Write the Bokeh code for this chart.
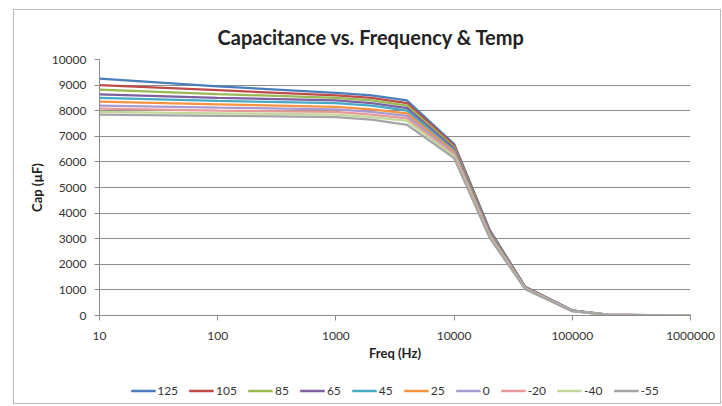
from bokeh.plotting import figure
from bokeh.layouts import column
from bokeh.models import Legend, LegendItem, FixedTicker, CustomJSTickFormatter, Title
from bokeh.embed import file_html
from bokeh.resources import INLINE

freq = [10, 100, 1000, 2000, 4000, 10000, 20000, 40000, 100000, 200000, 1000000]
temps = ["125", "105", "85", "65", "45", "25", "0", "-20", "-40", "-55"]
cap_125 = [9250, 8950, 8700, 8600, 8400, 6700, 3350, 1120, 200, 30, 0]
cap_105 = [9000, 8800, 8600, 8500, 8300, 6650, 3300, 1110, 195, 30, 0]
cap_85 = [8820, 8650, 8500, 8400, 8200, 6580, 3270, 1100, 190, 28, 0]
cap_65 = [8640, 8500, 8400, 8300, 8100, 6520, 3240, 1090, 190, 28, 0]
cap_45 = [8500, 8380, 8300, 8200, 8000, 6450, 3200, 1080, 185, 27, 0]
cap_25 = [8350, 8250, 8150, 8050, 7900, 6400, 3170, 1070, 180, 26, 0]
cap_0 = [8200, 8120, 8050, 7950, 7800, 6330, 3130, 1060, 180, 25, 0]
cap_m20 = [8080, 8000, 7950, 7850, 7700, 6280, 3100, 1050, 175, 25, 0]
cap_m40 = [7950, 7900, 7850, 7750, 7600, 6220, 3070, 1040, 170, 24, 0]
cap_m55 = [7850, 7800, 7750, 7650, 7450, 6150, 3030, 1030, 170, 24, 0]
series = [cap_125, cap_105, cap_85, cap_65, cap_45, cap_25, cap_0, cap_m20, cap_m40, cap_m55]
colors = ["#4A7EBB", "#BE4B48", "#98B954", "#7D60A0", "#46AAC5", "#F69240",
          "#A99BD0", "#E59A98", "#C4D79B", "#A5A5A5"]
x_ticks = [10, 100, 1000, 10000, 100000, 1000000]
y_ticks = list(range(0, 10001, 1000))

FONT = "Lato"

p = figure(width=706, height=355, x_axis_type="log", x_range=(10, 1000000), y_range=(0, 10000),
           output_backend="svg", toolbar_location=None,
           min_border_left=85, min_border_top=49, min_border_right=26, min_border_bottom=50)
p.background_fill_color = "white"
p.border_fill_color = "white"
p.outline_line_color = None

t = Title(text="Capacitance vs. Frequency & Temp", align="left",
          text_font=FONT, text_font_size="20px", text_font_style="bold", text_color="#222222",
          offset=118, standoff=22)
p.add_layout(t, "above")

p.xgrid.grid_line_color = None
p.ygrid.grid_line_color = "#8C8C8C"
p.ygrid.grid_line_width = 1

for ax in (p.xaxis[0], p.yaxis[0]):
    ax.axis_line_color = "#8C8C8C"
    ax.major_tick_line_color = "#8C8C8C"
    ax.major_tick_out = 5
    ax.major_tick_in = 0
    ax.minor_tick_line_color = None
    ax.major_label_text_font = FONT
    ax.major_label_text_font_size = "12px"
    ax.major_label_text_color = "#333333"
    ax.axis_label_text_font = FONT
    ax.axis_label_text_font_size = "13px"
    ax.axis_label_text_font_style = "bold"
    ax.axis_label_text_color = "#222222"

p.xaxis[0].ticker = FixedTicker(ticks=x_ticks, minor_ticks=[])
p.xaxis[0].formatter = CustomJSTickFormatter(code="return tick.toFixed(0);")
p.xaxis[0].axis_label = "Freq (Hz)"
p.xaxis[0].major_label_standoff = 11
p.xaxis[0].axis_label_standoff = 2
p.yaxis[0].ticker = FixedTicker(ticks=y_ticks, minor_ticks=[])
p.yaxis[0].axis_label = "Cap (µF)"
p.yaxis[0].major_label_standoff = 8
p.yaxis[0].axis_label_standoff = 4

for ys, c in zip(series, colors):
    p.line(freq, ys, line_color=c, line_width=2.25)

# legend strip below the chart (separate plot so the legend is not clipped);
# its lines lie outside its ranges, so only the legend swatches show
pl = figure(width=706, height=38, output_backend="svg", toolbar_location=None,
            x_range=(0, 1), y_range=(0, 1),
            min_border_left=0, min_border_right=30, min_border_top=12, min_border_bottom=0)
pl.axis.visible = False
pl.grid.visible = False
pl.outline_line_color = None
pl.background_fill_color = "white"
pl.border_fill_color = "white"
items = []
for name, ys, c in zip(temps, series, colors):
    r = pl.line(freq, ys, line_color=c, line_width=2.5)
    items.append(LegendItem(label=name, renderers=[r]))
legend = Legend(items=items, orientation="horizontal", location="center",
                label_text_font=FONT, label_text_font_size="12px", label_text_color="#333333",
                glyph_width=25, glyph_height=10, label_standoff=2, label_width=0, spacing=11,
                border_line_color=None, background_fill_alpha=0, margin=0, padding=2)
pl.add_layout(legend, "center")

layout = column(p, pl, spacing=0,
                styles={"border": "1px solid #BBBBBB", "margin-left": "13px", "margin-top": "9px"})

open("out.html", "w").write(file_html(layout, INLINE))
